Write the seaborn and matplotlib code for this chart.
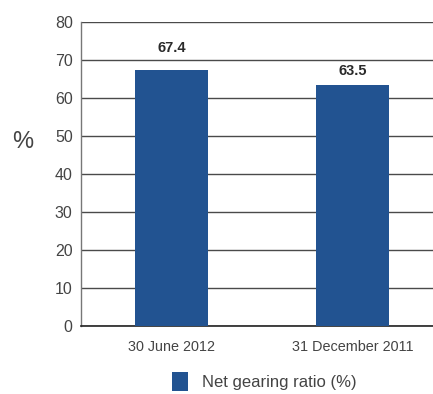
import matplotlib
matplotlib.use("Agg")
import matplotlib.pyplot as plt
import seaborn as sns
import pandas as pd
from matplotlib.patches import Patch
from matplotlib.ticker import FixedLocator

sns.set_theme(style="white")
plt.rcParams["font.family"] = ["Liberation Sans", "DejaVu Sans"]

categories = ["30 June 2012", "31 December 2011"]
values = [67.4, 63.5]
series_name = "Net gearing ratio (%)"
y_ticks = [0, 10, 20, 30, 40, 50, 60, 70, 80]

bar_color = "#225391"
text_color = "#444444"

df = pd.DataFrame({"period": categories, "ratio": values})

fig = plt.figure(figsize=(4.33, 3.94), dpi=100)
ax = fig.add_axes([81 / 433, 68 / 394, 352 / 433, 304 / 394])

sns.barplot(data=df, x="period", y="ratio", color=bar_color, width=0.4,
            saturation=1, linewidth=0, edgecolor="none", ax=ax, zorder=3)

ax.set_xlim(-0.5, 1.445)
ax.set_ylim(0, 80)
ax.set_yticks(y_ticks)
ax.yaxis.grid(True, color="#4a4a4a", linewidth=1.0, zorder=0)
ax.set_axisbelow(True)

for spine in ["top", "right"]:
    ax.spines[spine].set_visible(False)
ax.spines["left"].set_color("#777777")
ax.spines["left"].set_linewidth(1.0)
ax.spines["bottom"].set_color("#222222")
ax.spines["bottom"].set_linewidth(1.2)

ax.tick_params(axis="y", length=0, pad=6, labelsize=11.5, labelcolor=text_color)
ax.tick_params(axis="x", which="major", length=0, pad=10, labelsize=10.4,
               labelcolor=text_color)
ax.xaxis.set_minor_locator(FixedLocator([0.5]))
ax.tick_params(axis="x", which="minor", direction="in", length=5,
               width=1, color="#555555")

ax.set_xlabel("")
ax.set_ylabel("%", rotation=0, fontsize=17, color=text_color, va="center",
              ha="center")
ax.yaxis.set_label_coords(-58 / 352, (326 - 142) / 304)

# value labels; the first one sits clear of the 70 gridline
label_offsets = [11, 5]
for patch, v, off in zip(ax.patches, values, label_offsets):
    ax.annotate(f"{v:.1f}", xy=(patch.get_x() + patch.get_width() / 2, v),
                xytext=(0, off), textcoords="offset points", ha="center",
                va="bottom", fontsize=10.5, fontweight="bold", color="#2a2a2a")

handles = [Patch(facecolor=bar_color, edgecolor="none", label=series_name)]
fig.legend(handles=handles, loc="lower center", bbox_to_anchor=(0.61, -0.03),
           frameon=False, fontsize=12, handlelength=1.0, handleheight=1.4,
           handletextpad=0.8, labelcolor=text_color)

fig.savefig("out.png", dpi=100)
